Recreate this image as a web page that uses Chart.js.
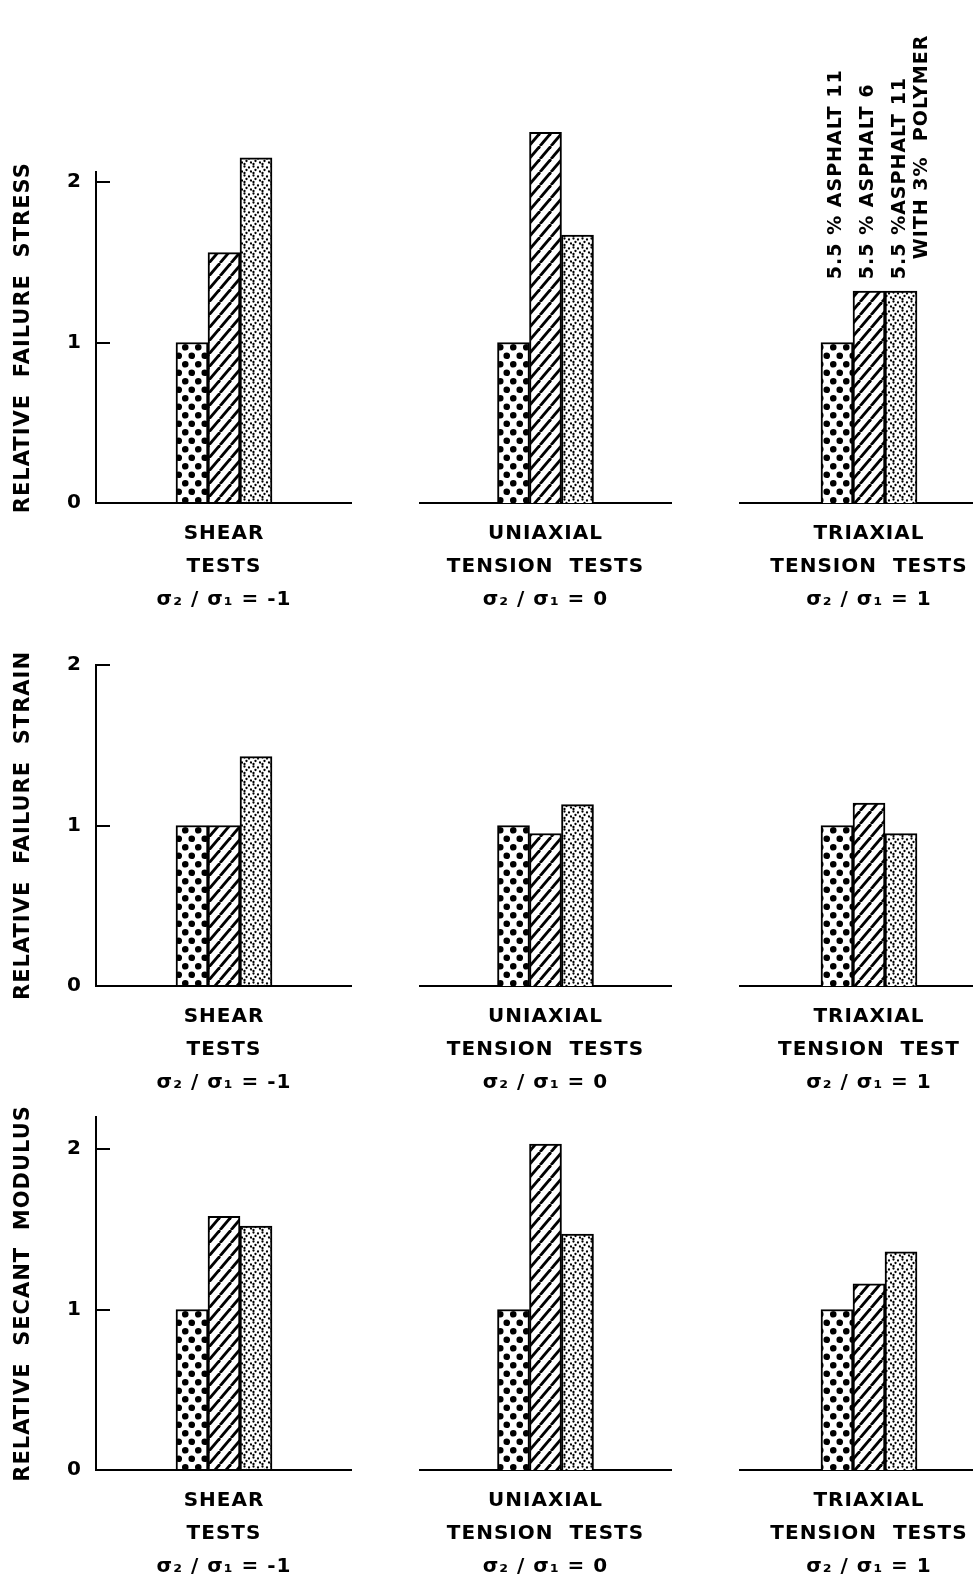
<!DOCTYPE html>
<html>
<head>
<meta charset="utf-8">
<script src="https://cdn.jsdelivr.net/npm/chart.js@4.4.1/dist/chart.umd.min.js"></script>
<style>
  html, body { margin: 0; background: #fff; overflow: hidden; }
  #page { position: relative; width: 973px; height: 1581px; overflow: hidden; background: #fff; }
  #page canvas { position: absolute; }
</style>
</head>
<body>
<div id="page"></div>
<script>
// mixes, one per bar pattern (dots, hatch, stipple)
const mixes = [["5.5 % ASPHALT 11"], ["5.5 % ASPHALT 6"], ["5.5 %ASPHALT 11", "WITH 3%  POLYMER"]];

const stressTests = [["SHEAR", "TESTS", "σ₂ / σ₁ = -1"], ["UNIAXIAL", "TENSION  TESTS", "σ₂ / σ₁ = 0"], ["TRIAXIAL", "TENSION  TESTS", "σ₂ / σ₁ = 1"]];
const strainTests = [["SHEAR", "TESTS", "σ₂ / σ₁ = -1"], ["UNIAXIAL", "TENSION  TESTS", "σ₂ / σ₁ = 0"], ["TRIAXIAL", "TENSION  TEST", "σ₂ / σ₁ = 1"]];
const modulusTests = [["SHEAR", "TESTS", "σ₂ / σ₁ = -1"], ["UNIAXIAL", "TENSION  TESTS", "σ₂ / σ₁ = 0"], ["TRIAXIAL", "TENSION  TESTS", "σ₂ / σ₁ = 1"]];

const stressAsphalt11 = [1.0, 1.0, 1.0];
const stressAsphalt6 = [1.56, 2.31, 1.32];
const stressPolymer = [2.15, 1.67, 1.32];

const strainAsphalt11 = [1.0, 1.0, 1.0];
const strainAsphalt6 = [1.0, 0.95, 1.14];
const strainPolymer = [1.43, 1.13, 0.95];

const modulusAsphalt11 = [1.0, 1.0, 1.0];
const modulusAsphalt6 = [1.58, 2.03, 1.16];
const modulusPolymer = [1.52, 1.47, 1.36];

const yTicks = [0, 1, 2];
const yTitles = ["RELATIVE  FAILURE  STRESS", "RELATIVE  FAILURE  STRAIN", "RELATIVE  SECANT  MODULUS"];
const axisTop = [2.06, 2.0, 2.2];

const rows = [
  { title: yTitles[0], tests: stressTests, series: [stressAsphalt11, stressAsphalt6, stressPolymer], yMax: axisTop[0] },
  { title: yTitles[1], tests: strainTests, series: [strainAsphalt11, strainAsphalt6, strainPolymer], yMax: axisTop[1] },
  { title: yTitles[2], tests: modulusTests, series: [modulusAsphalt11, modulusAsphalt6, modulusPolymer], yMax: axisTop[2] },
];

// page layout
const rowBase = [503, 986, 1470];
const colLeft = [0, 419, 739];
const colWidth = [352, 253, 260];
const unit = 160.5;
const xAxisHeight = 115;

Chart.defaults.font.family = '"DejaVu Sans", sans-serif';
Chart.defaults.color = "#000";

function makePattern(w, h, draw) {
  const c = document.createElement("canvas");
  c.width = w;
  c.height = h;
  const g = c.getContext("2d");
  g.fillStyle = "#fff";
  g.fillRect(0, 0, w, h);
  g.fillStyle = "#000";
  g.strokeStyle = "#000";
  draw(g);
  return g.createPattern(c, "repeat");
}

function dots(g, points, radius) {
  points.forEach(function (p) {
    g.beginPath();
    g.arc(p[0], p[1], radius, 0, Math.PI * 2);
    g.fill();
  });
}

const bigDots = makePattern(13, 17, function (g) {
  dots(g, [[3.25, 4.25], [9.75, 12.75]], 3.3);
});

const hatch = makePattern(11, 13, function (g) {
  g.lineWidth = 2.8;
  for (let k = -1; k <= 1; k++) {
    g.beginPath();
    g.moveTo(k * 11, 13);
    g.lineTo(k * 11 + 11, 0);
    g.stroke();
  }
});

const stipple = makePattern(9, 9, function (g) {
  dots(g, [[1.5, 1.5], [6, 2.5], [3.5, 5], [8, 6.5], [1.5, 8]], 1.15);
});

const fills = [bigDots, hatch, stipple];

const letterSpacing = {
  id: "letterSpacing",
  beforeDraw(chart) {
    chart.ctx.letterSpacing = "1px";
  },
};

// rotated mix names above the triaxial stress bars
const mixLabels = {
  id: "mixLabels",
  afterDatasetsDraw(chart) {
    const ctx = chart.ctx;
    const bars = chart.data.datasets.map((d, i) => chart.getDatasetMeta(i).data[0]);
    const top = Math.min(...bars.map((b) => b.y)) - 12;
    ctx.save();
    ctx.fillStyle = "#000";
    ctx.font = 'bold 19px "DejaVu Sans"';
    ctx.textBaseline = "middle";
    ctx.textAlign = "left";
    bars.forEach((bar, i) => {
      mixes[i].forEach((line, k) => {
        ctx.save();
        ctx.translate(bar.x - 1 + k * 22, top - k * 20);
        ctx.rotate(-Math.PI / 2);
        ctx.fillText(line, 0, 0);
        ctx.restore();
      });
    });
    ctx.restore();
  },
};

const page = document.getElementById("page");

rows.forEach(function (row, r) {
  for (let g = 0; g < 3; g++) {
    const canvas = document.createElement("canvas");
    canvas.width = colWidth[g];
    canvas.height = 500 + xAxisHeight;
    canvas.style.left = colLeft[g] + "px";
    canvas.style.top = rowBase[r] - 500 + "px";
    page.appendChild(canvas);

    const plugins = [letterSpacing];
    if (r === 0 && g === 2) plugins.push(mixLabels);

    new Chart(canvas, {
      type: "bar",
      data: {
        labels: [row.tests[g]],
        datasets: row.series.map(function (s, i) {
          return {
            label: mixes[i].join(" "),
            data: [s[g]],
            backgroundColor: fills[i],
            borderColor: "#000",
            borderWidth: 2,
            barThickness: 32,
            clip: false,
          };
        }),
      },
      options: {
        responsive: false,
        animation: false,
        devicePixelRatio: 1,
        layout: { padding: { top: 500 - row.yMax * unit, left: 0, right: 0, bottom: 0 } },
        plugins: {
          legend: { display: false },
          tooltip: { enabled: false },
        },
        scales: {
          x: {
            grid: { display: false },
            border: { display: true, color: "#000", width: 2 },
            ticks: {
              color: "#000",
              maxRotation: 0,
              padding: 6,
              font: { size: 20, weight: "bold", lineHeight: 1.65 },
            },
            afterFit: function (scale) {
              scale.height = xAxisHeight;
            },
          },
          y: {
            display: g === 0,
            min: 0,
            max: row.yMax,
            afterBuildTicks: function (scale) {
              scale.ticks = yTicks.map((v) => ({ value: v }));
            },
            grid: { drawOnChartArea: false, tickLength: -14, color: "#000", lineWidth: 2 },
            border: { display: true, color: "#000", width: 2 },
            ticks: {
              color: "#000",
              padding: 28,
              font: { size: 20, weight: "bold" },
            },
            title: {
              display: true,
              text: row.title,
              color: "#000",
              font: { size: 21, weight: "bold" },
              padding: { top: 11, bottom: 0 },
            },
            afterFit: function (scale) {
              if (g === 0) scale.width = 96;
            },
          },
        },
      },
      plugins: plugins,
    });
  }
});
</script>
</body>
</html>
